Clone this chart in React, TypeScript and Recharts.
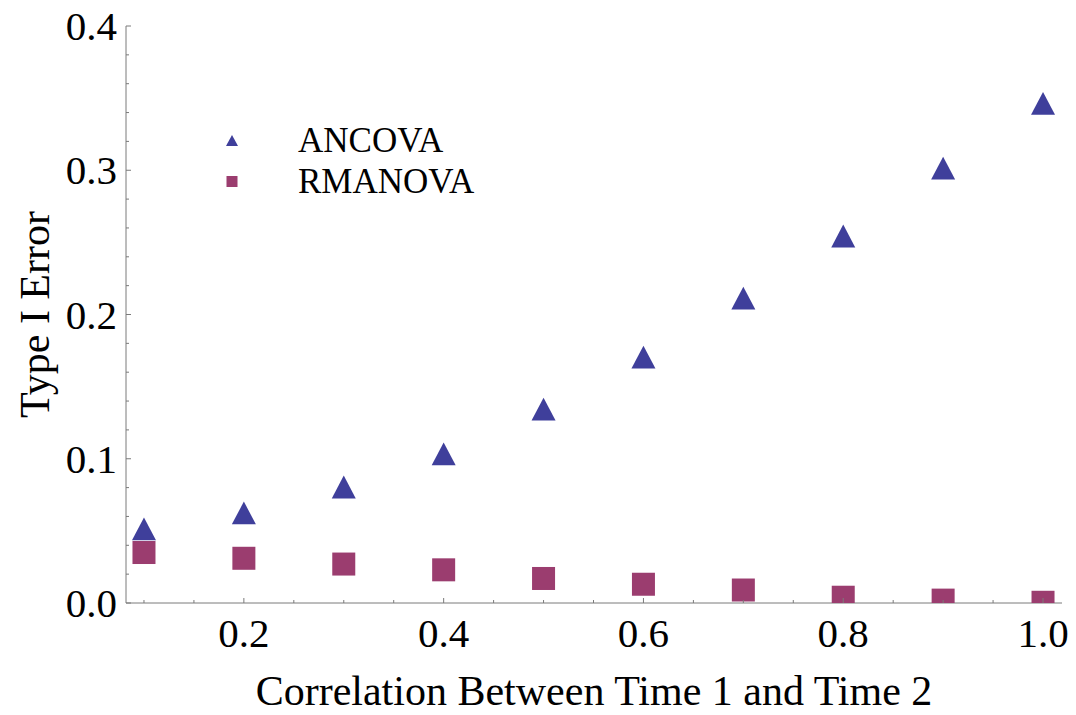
import { ScatterChart, Scatter, XAxis, YAxis, Label } from "recharts"

const correlations = [0.1, 0.2, 0.3, 0.4, 0.5, 0.6, 0.7, 0.8, 0.9, 1.0]
const ancovaError = [0.051, 0.062, 0.080, 0.103, 0.134, 0.170, 0.211, 0.254, 0.301, 0.346]
const rmanovaError = [0.035, 0.031, 0.027, 0.023, 0.017, 0.013, 0.009, 0.004, 0.002, 0.0005]

const xMajor = [0.2, 0.4, 0.6, 0.8, 1.0]
const xTicks = [0.1, 0.15, 0.2, 0.25, 0.3, 0.35, 0.4, 0.45, 0.5, 0.55, 0.6, 0.65, 0.7, 0.75, 0.8, 0.85, 0.9, 0.95, 1.0]
const yMajor = [0, 0.1, 0.2, 0.3, 0.4]
const yTicks = [0, 0.02, 0.04, 0.06, 0.08, 0.1, 0.12, 0.14, 0.16, 0.18, 0.2, 0.22, 0.24, 0.26, 0.28, 0.3, 0.32, 0.34, 0.36, 0.38, 0.4]

const seriesNames = ["ANCOVA", "RMANOVA"]

const ancovaData = correlations.map((x, i) => ({ x, y: ancovaError[i] }))
const rmanovaData = correlations.map((x, i) => ({ x, y: rmanovaError[i] }))

const FONT = '"Liberation Serif", "DejaVu Serif", serif'
const BLUE = "#3f3f9b"
const PURPLE = "#9b3d6f"
const AXIS = "#7a7a7a"
const AXIS_Y = 603 // pixel row of the x axis, squares are cut there like in the original

const isMajor = (v: number, list: number[]) => list.some((m) => Math.abs(m - v) < 1e-6)

const XTick = (props: any) => {
  const { x, y, payload } = props
  const major = isMajor(payload.value, xMajor)
  return (
    <g>
      <line x1={x} x2={x} y1={y} y2={y - (major ? 5 : 3)} stroke={AXIS} strokeWidth={1} />
      {major && (
        <text x={x} y={y + 44} textAnchor="middle" fontFamily={FONT} fontSize={41} fill="#000">
          {payload.value.toFixed(1)}
        </text>
      )}
    </g>
  )
}

const YTick = (props: any) => {
  const { x, y, payload } = props
  const major = isMajor(payload.value, yMajor)
  return (
    <g>
      <line x1={x} x2={x + (major ? 5 : 3)} y1={y} y2={y} stroke={AXIS} strokeWidth={1} />
      {major && (
        <text x={x - 9} y={y + 14} textAnchor="end" fontFamily={FONT} fontSize={41} fill="#000">
          {payload.value.toFixed(1)}
        </text>
      )}
    </g>
  )
}

const Triangle = (props: any) => {
  const { cx, cy } = props
  const s = 12
  return <polygon points={`${cx},${cy - s} ${cx - s},${cy + s * 0.9} ${cx + s},${cy + s * 0.9}`} fill={BLUE} />
}

const Square = (props: any) => {
  const { cx, cy } = props
  const top = cy - 11.5
  const h = Math.min(23, AXIS_Y - top)
  return <rect x={cx - 11.5} y={top} width={23} height={h} fill={PURPLE} />
}

// legend drawn as an overlay so it does not take space from the plot
const LegendBox = () => (
  <div
    style={{
      position: "absolute",
      left: 220,
      top: 120,
      fontFamily: FONT,
      fontSize: 35,
      color: "#000",
      lineHeight: "41px",
    }}
  >
    {seriesNames.map((name, i) => (
      <div key={name} style={{ display: "flex", alignItems: "center" }}>
        <svg width={78} height={41}>
          {i === 0 ? (
            <polygon points="12,15 6,26 18,26" fill={BLUE} />
          ) : (
            <rect x={6.5} y={15} width={11} height={11} fill={PURPLE} />
          )}
        </svg>
        <span>{name}</span>
      </div>
    ))}
  </div>
)

export default function App() {
  return (
    <div style={{ position: "absolute", left: 0, top: 0, width: 1076, height: 715, background: "#fff" }}>
      <ScatterChart width={1076} height={715} margin={{ top: 26, right: 14, left: 0, bottom: 0 }}>
        <XAxis
          type="number"
          dataKey="x"
          domain={[0.082, 1.019]}
          ticks={xTicks}
          interval={0}
          height={112}
          tickSize={0}
          tickMargin={0}
          tick={<XTick />}
          stroke={AXIS}
          allowDataOverflow
        >
          <Label
            value="Correlation Between Time 1 and Time 2"
            position="center"
            dy={31}
            style={{ fontFamily: FONT, fontSize: 42, fill: "#000" }}
          />
        </XAxis>
        <YAxis
          type="number"
          dataKey="y"
          domain={[0, 0.4]}
          ticks={yTicks}
          interval={0}
          width={126}
          tickSize={0}
          tickMargin={0}
          tick={<YTick />}
          stroke={AXIS}
          allowDataOverflow
        >
          <Label
            value="Type I Error"
            position="center"
            angle={-90}
            dx={-29}
            style={{ fontFamily: FONT, fontSize: 42, fill: "#000" }}
          />
        </YAxis>
        <Scatter name={seriesNames[0]} data={ancovaData} shape={<Triangle />} isAnimationActive={false} />
        <Scatter name={seriesNames[1]} data={rmanovaData} shape={<Square />} isAnimationActive={false} />
      </ScatterChart>
      <LegendBox />
    </div>
  )
}
